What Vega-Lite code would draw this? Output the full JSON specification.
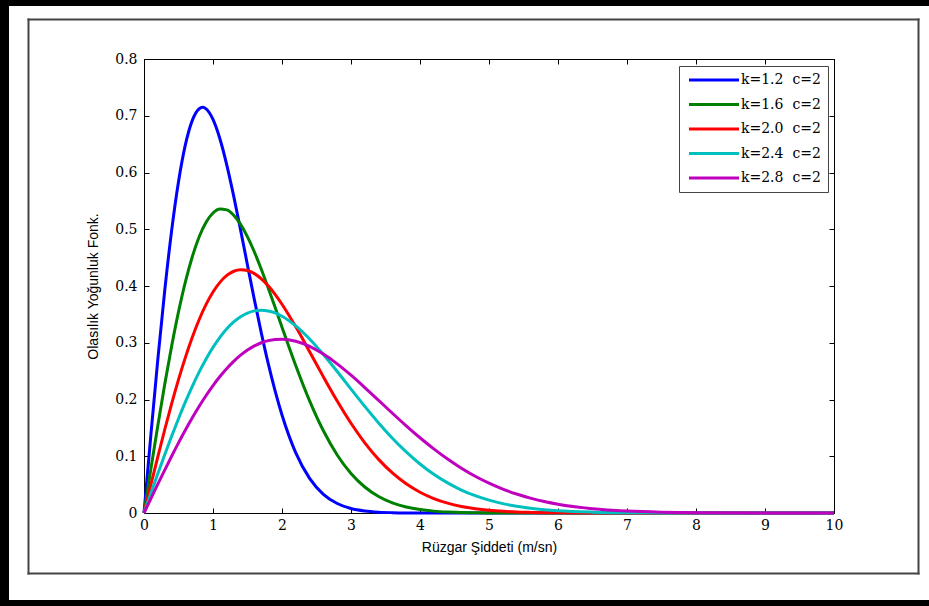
{
"$schema": "https://vega.github.io/schema/vega-lite/v6.json",
"width": 920, "height": 594,
"autosize": "none",
"padding": {"left": 9, "top": 6, "right": 0, "bottom": 6},
"background": "black",
"config": {
 "view": {"fill": "white", "stroke": null},
 "axis": {"grid": false, "domainColor": "black", "tickColor": "black", "labelColor": "black", "labelFont": "DejaVu Serif", "labelFontSize": 14, "titleFont": "Liberation Sans", "titleFontSize": 14, "titleFontWeight": "normal", "titleColor": "black", "domainCap": "square", "labelFlush": false, "labelOverlap": false}
},
"data": {"values": [
{"k":"1.2","x":0,"y":0},{"k":"1.2","x":0.1,"y":0.1379},{"k":"1.2","x":0.2,"y":0.2702},{"k":"1.2","x":0.3,"y":0.3914},{"k":"1.2","x":0.4,"y":0.4971},{"k":"1.2","x":0.5,"y":0.5838},{"k":"1.2","x":0.6,"y":0.649},{"k":"1.2","x":0.7,"y":0.6918},{"k":"1.2","x":0.8,"y":0.7124},{"k":"1.2","x":0.85,"y":0.7148},{"k":"1.2","x":0.9,"y":0.7122},{"k":"1.2","x":1.0,"y":0.6935},{"k":"1.2","x":1.1,"y":0.6594},{"k":"1.2","x":1.2,"y":0.6131},{"k":"1.2","x":1.3,"y":0.5584},{"k":"1.2","x":1.4,"y":0.4985},{"k":"1.2","x":1.5,"y":0.4367},{"k":"1.2","x":1.6,"y":0.3756},{"k":"1.2","x":1.7,"y":0.3174},{"k":"1.2","x":1.8,"y":0.2635},{"k":"1.2","x":1.9,"y":0.2151},{"k":"1.2","x":2.0,"y":0.1727},{"k":"1.2","x":2.2,"y":0.106},{"k":"1.2","x":2.4,"y":0.0611},{"k":"1.2","x":2.6,"y":0.033},{"k":"1.2","x":2.8,"y":0.0168},{"k":"1.2","x":3.0,"y":0.008},{"k":"1.2","x":3.2,"y":0.0036},{"k":"1.2","x":3.4,"y":0.0015},{"k":"1.2","x":3.6,"y":0.0006},{"k":"1.2","x":3.8,"y":0.0002},{"k":"1.2","x":4.0,"y":0.0001},{"k":"1.2","x":5,"y":0},{"k":"1.2","x":10,"y":0},
{"k":"1.6","x":0,"y":0},{"k":"1.6","x":0.1,"y":0.0778},{"k":"1.6","x":0.2,"y":0.1538},{"k":"1.6","x":0.3,"y":0.2263},{"k":"1.6","x":0.4,"y":0.2936},{"k":"1.6","x":0.5,"y":0.3543},{"k":"1.6","x":0.6,"y":0.4073},{"k":"1.6","x":0.7,"y":0.4516},{"k":"1.6","x":0.8,"y":0.4868},{"k":"1.6","x":0.9,"y":0.5124},{"k":"1.6","x":1.0,"y":0.5286},{"k":"1.6","x":1.1,"y":0.5357},{"k":"1.6","x":1.2,"y":0.5342},{"k":"1.6","x":1.3,"y":0.5248},{"k":"1.6","x":1.4,"y":0.5086},{"k":"1.6","x":1.5,"y":0.4866},{"k":"1.6","x":1.6,"y":0.4599},{"k":"1.6","x":1.7,"y":0.4295},{"k":"1.6","x":1.8,"y":0.3966},{"k":"1.6","x":1.9,"y":0.3624},{"k":"1.6","x":2.0,"y":0.3275},{"k":"1.6","x":2.2,"y":0.2595},{"k":"1.6","x":2.4,"y":0.1976},{"k":"1.6","x":2.6,"y":0.1449},{"k":"1.6","x":2.8,"y":0.1023},{"k":"1.6","x":3.0,"y":0.0697},{"k":"1.6","x":3.2,"y":0.0458},{"k":"1.6","x":3.4,"y":0.029},{"k":"1.6","x":3.6,"y":0.0178},{"k":"1.6","x":3.8,"y":0.0106},{"k":"1.6","x":4.0,"y":0.006},{"k":"1.6","x":4.2,"y":0.0033},{"k":"1.6","x":4.4,"y":0.0018},{"k":"1.6","x":4.6,"y":0.0009},{"k":"1.6","x":4.8,"y":0.0005},{"k":"1.6","x":5.0,"y":0.0002},{"k":"1.6","x":6,"y":0},{"k":"1.6","x":10,"y":0},
{"k":"2.0","x":0,"y":0},{"k":"2.0","x":0.1,"y":0.0499},{"k":"2.0","x":0.2,"y":0.099},{"k":"2.0","x":0.3,"y":0.1467},{"k":"2.0","x":0.4,"y":0.1922},{"k":"2.0","x":0.5,"y":0.2349},{"k":"2.0","x":0.6,"y":0.2742},{"k":"2.0","x":0.7,"y":0.3097},{"k":"2.0","x":0.8,"y":0.3409},{"k":"2.0","x":0.9,"y":0.3675},{"k":"2.0","x":1.0,"y":0.3894},{"k":"2.0","x":1.1,"y":0.4064},{"k":"2.0","x":1.2,"y":0.4186},{"k":"2.0","x":1.3,"y":0.426},{"k":"2.0","x":1.4,"y":0.4288},{"k":"2.0","x":1.5,"y":0.4273},{"k":"2.0","x":1.6,"y":0.4218},{"k":"2.0","x":1.7,"y":0.4127},{"k":"2.0","x":1.8,"y":0.4004},{"k":"2.0","x":1.9,"y":0.3853},{"k":"2.0","x":2.0,"y":0.3679},{"k":"2.0","x":2.2,"y":0.328},{"k":"2.0","x":2.4,"y":0.2843},{"k":"2.0","x":2.6,"y":0.2399},{"k":"2.0","x":2.8,"y":0.1972},{"k":"2.0","x":3.0,"y":0.1581},{"k":"2.0","x":3.2,"y":0.1237},{"k":"2.0","x":3.4,"y":0.0945},{"k":"2.0","x":3.6,"y":0.0705},{"k":"2.0","x":3.8,"y":0.0514},{"k":"2.0","x":4.0,"y":0.0366},{"k":"2.0","x":4.2,"y":0.0255},{"k":"2.0","x":4.4,"y":0.0174},{"k":"2.0","x":4.6,"y":0.0116},{"k":"2.0","x":4.8,"y":0.0076},{"k":"2.0","x":5.0,"y":0.0048},{"k":"2.0","x":5.2,"y":0.003},{"k":"2.0","x":5.4,"y":0.0018},{"k":"2.0","x":5.6,"y":0.0011},{"k":"2.0","x":5.8,"y":0.0006},{"k":"2.0","x":6.0,"y":0.0004},{"k":"2.0","x":6.5,"y":0.0001},{"k":"2.0","x":7,"y":0},{"k":"2.0","x":10,"y":0},
{"k":"2.4","x":0,"y":0},{"k":"2.4","x":0.1,"y":0.0347},{"k":"2.4","x":0.2,"y":0.069},{"k":"2.4","x":0.3,"y":0.1026},{"k":"2.4","x":0.4,"y":0.1351},{"k":"2.4","x":0.5,"y":0.1662},{"k":"2.4","x":0.6,"y":0.1957},{"k":"2.4","x":0.7,"y":0.2232},{"k":"2.4","x":0.8,"y":0.2486},{"k":"2.4","x":0.9,"y":0.2715},{"k":"2.4","x":1.0,"y":0.2919},{"k":"2.4","x":1.1,"y":0.3096},{"k":"2.4","x":1.2,"y":0.3245},{"k":"2.4","x":1.3,"y":0.3366},{"k":"2.4","x":1.4,"y":0.3459},{"k":"2.4","x":1.5,"y":0.3524},{"k":"2.4","x":1.6,"y":0.3562},{"k":"2.4","x":1.7,"y":0.3574},{"k":"2.4","x":1.8,"y":0.3561},{"k":"2.4","x":1.9,"y":0.3525},{"k":"2.4","x":2.0,"y":0.3468},{"k":"2.4","x":2.2,"y":0.3297},{"k":"2.4","x":2.4,"y":0.3066},{"k":"2.4","x":2.6,"y":0.2792},{"k":"2.4","x":2.8,"y":0.2493},{"k":"2.4","x":3.0,"y":0.2183},{"k":"2.4","x":3.2,"y":0.1878},{"k":"2.4","x":3.4,"y":0.1587},{"k":"2.4","x":3.6,"y":0.1318},{"k":"2.4","x":3.8,"y":0.1076},{"k":"2.4","x":4.0,"y":0.0864},{"k":"2.4","x":4.2,"y":0.0682},{"k":"2.4","x":4.4,"y":0.053},{"k":"2.4","x":4.6,"y":0.0405},{"k":"2.4","x":4.8,"y":0.0305},{"k":"2.4","x":5.0,"y":0.0226},{"k":"2.4","x":5.2,"y":0.0165},{"k":"2.4","x":5.4,"y":0.0119},{"k":"2.4","x":5.6,"y":0.0084},{"k":"2.4","x":5.8,"y":0.0059},{"k":"2.4","x":6.0,"y":0.004},{"k":"2.4","x":6.5,"y":0.0015},{"k":"2.4","x":7.0,"y":0.0005},{"k":"2.4","x":7.5,"y":0.0002},{"k":"2.4","x":8,"y":0},{"k":"2.4","x":10,"y":0},
{"k":"2.8","x":0,"y":0},{"k":"2.8","x":0.1,"y":0.0255},{"k":"2.8","x":0.2,"y":0.0508},{"k":"2.8","x":0.3,"y":0.0757},{"k":"2.8","x":0.4,"y":0.1},{"k":"2.8","x":0.5,"y":0.1236},{"k":"2.8","x":0.6,"y":0.1462},{"k":"2.8","x":0.7,"y":0.1678},{"k":"2.8","x":0.8,"y":0.1881},{"k":"2.8","x":0.9,"y":0.2071},{"k":"2.8","x":1.0,"y":0.2246},{"k":"2.8","x":1.1,"y":0.2405},{"k":"2.8","x":1.2,"y":0.2548},{"k":"2.8","x":1.3,"y":0.2673},{"k":"2.8","x":1.4,"y":0.2781},{"k":"2.8","x":1.5,"y":0.2872},{"k":"2.8","x":1.6,"y":0.2945},{"k":"2.8","x":1.7,"y":0.3},{"k":"2.8","x":1.8,"y":0.3037},{"k":"2.8","x":1.9,"y":0.3058},{"k":"2.8","x":2.0,"y":0.3063},{"k":"2.8","x":2.2,"y":0.3027},{"k":"2.8","x":2.4,"y":0.2937},{"k":"2.8","x":2.6,"y":0.28},{"k":"2.8","x":2.8,"y":0.2628},{"k":"2.8","x":3.0,"y":0.2428},{"k":"2.8","x":3.2,"y":0.2211},{"k":"2.8","x":3.4,"y":0.1985},{"k":"2.8","x":3.6,"y":0.1758},{"k":"2.8","x":3.8,"y":0.1537},{"k":"2.8","x":4.0,"y":0.1326},{"k":"2.8","x":4.2,"y":0.1129},{"k":"2.8","x":4.4,"y":0.095},{"k":"2.8","x":4.6,"y":0.0789},{"k":"2.8","x":4.8,"y":0.0648},{"k":"2.8","x":5.0,"y":0.0526},{"k":"2.8","x":5.2,"y":0.0422},{"k":"2.8","x":5.4,"y":0.0334},{"k":"2.8","x":5.6,"y":0.0262},{"k":"2.8","x":5.8,"y":0.0203},{"k":"2.8","x":6.0,"y":0.0155},{"k":"2.8","x":6.5,"y":0.0076},{"k":"2.8","x":7.0,"y":0.0035},{"k":"2.8","x":7.5,"y":0.0015},{"k":"2.8","x":8.0,"y":0.0006},{"k":"2.8","x":9.0,"y":0.0001},{"k":"2.8","x":10,"y":0}
]},
"layer": [
 {
  "mark": {"type": "point", "opacity": 0},
  "encoding": {
   "x": {"field": "x", "type": "quantitative", "scale": {"domain": [0, 10], "range": [19, 909], "nice": false},
         "axis": {"orient": "bottom", "offset": -27, "ticks": false, "labels": false, "title": null, "domainColor": "#444", "domainWidth": 2}},
   "y": {"field": "y", "type": "quantitative", "scale": {"domain": [0, 0.8], "range": [567, 13], "nice": false},
         "axis": {"orient": "left", "offset": -19, "ticks": false, "labels": false, "title": null, "domainColor": "#444", "domainWidth": 2}}
  }
 },
 {
  "mark": {"type": "point", "opacity": 0},
  "encoding": {
   "x": {"field": "x", "type": "quantitative", "scale": {"domain": [0, 10], "range": [19, 909], "nice": false},
         "axis": {"orient": "top", "offset": -13, "ticks": false, "labels": false, "title": null, "domainColor": "#444", "domainWidth": 2}},
   "y": {"field": "y", "type": "quantitative", "scale": {"domain": [0, 0.8], "range": [567, 13], "nice": false},
         "axis": {"orient": "right", "offset": -11, "ticks": false, "labels": false, "title": null, "domainColor": "#444", "domainWidth": 2}}
  }
 },
 {
  "mark": {"type": "line", "interpolate": "monotone", "strokeWidth": 3},
  "encoding": {
   "x": {"field": "x", "type": "quantitative", "scale": {"domain": [0, 10], "range": [135, 825], "nice": false},
         "axis": {"orient": "bottom", "offset": -87, "values": [0,1,2,3,4,5,6,7,8,9,10], "format": "d", "tickSize": -5, "labelPadding": 10, "title": "Rüzgar Şiddeti (m/sn)", "titlePadding": 8}},
   "y": {"field": "y", "type": "quantitative", "scale": {"domain": [0, 0.8], "range": [507, 53], "nice": false},
         "axis": {"orient": "left", "offset": -135, "values": [0,0.1,0.2,0.3,0.4,0.5,0.6,0.7,0.8], "labelExpr": "datum.value == 0 ? '0' : format(datum.value, '.1f')", "tickSize": -5, "labelPadding": 12, "title": "Olasılık Yoğunluk Fonk.", "titlePadding": 14}},
   "color": {"field": "k", "type": "nominal",
     "scale": {"domain": ["1.2","1.6","2.0","2.4","2.8"], "range": ["#0000FF","#008000","#FF0000","#00BFBF","#BF00BF"]},
     "legend": {"orient": "none", "legendX": 670, "legendY": 60, "title": null, "symbolType": "M-0.8,0L9.2,0", "symbolSize": 100, "symbolStrokeWidth": 3, "labelFont": "DejaVu Serif", "labelFontSize": 14, "labelColor": "black", "labelOffset": 41, "padding": 7, "rowPadding": 10.5, "strokeColor": "#444", "fillColor": "white", "labelExpr": "'k=' + datum.label + '\u00a0\u00a0c=2'"}}
  }
 },
 {
  "mark": {"type": "point", "opacity": 0},
  "encoding": {
   "x": {"field": "x", "type": "quantitative", "scale": {"domain": [0, 10], "range": [135, 825], "nice": false},
         "axis": {"orient": "top", "offset": -53, "values": [0,1,2,3,4,5,6,7,8,9,10], "tickSize": -5, "labels": false, "title": null}},
   "y": {"field": "y", "type": "quantitative", "scale": {"domain": [0, 0.8], "range": [507, 53], "nice": false},
         "axis": {"orient": "right", "offset": -95, "values": [0,0.1,0.2,0.3,0.4,0.5,0.6,0.7,0.8], "tickSize": -5, "labels": false, "title": null}}
  }
 }
],
"resolve": {"scale": {"x": "independent", "y": "independent"}, "axis": {"x": "independent", "y": "independent"}}
}
